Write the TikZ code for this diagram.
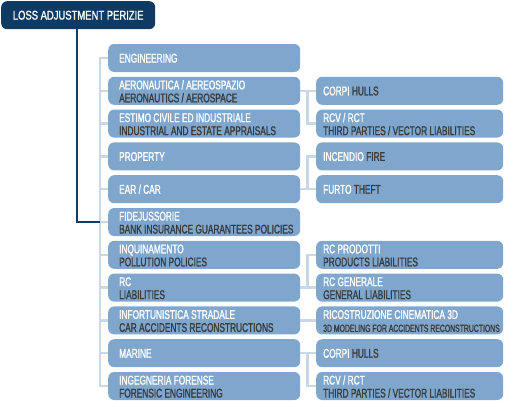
\documentclass[tikz,border=0pt]{standalone}
\usepackage{fontspec}
\setmainfont{Liberation Sans}[FakeStretch=0.66,FakeBold=1.2]
\newfontfamily\hdrfont{Liberation Sans}[FakeStretch=0.75,FakeBold=1.2]
\usetikzlibrary{calc}
\definecolor{navy}{HTML}{0E3A64}
\definecolor{boxblue}{HTML}{7FA7CE}
\definecolor{conn}{HTML}{C8D8E9}
\definecolor{engl}{HTML}{3A3A3A}
\newcommand\rowc[1]{\pgfmathsetmacro\cy{58+32.8*(#1-1)}}
% left box, one line
\newcommand\Lone[3]{\rowc{#2}%
  \node[lbox] (#1) at (108,\cy) {};
  \node[txt] (#1a) at (119,\cy+4.5) {#3};}
% left box, two lines
\newcommand\Ltwo[4]{\rowc{#2}%
  \node[lbox] (#1) at (108,\cy) {};
  \node[txt] (#1a) at (119,\cy-1.5) {#3};
  \node[txt,en] (#1b) at (119,\cy+11.5) {#4};}
% right box, one line
\newcommand\Rone[3]{\rowc{#2}%
  \node[rbox] (#1) at (316,\cy) {};
  \node[txt] (#1a) at (323,\cy+4.5) {#3};}
% right box, two lines
\newcommand\Rtwo[5][]{\rowc{#3}%
  \node[rbox] (#2) at (316,\cy) {};
  \node[txt] (#2a) at (323,\cy-1.5) {#4};
  \node[txt,en,#1] (#2b) at (323,\cy+11.5) {#5};}
\begin{document}
\begin{tikzpicture}[x=1pt,y=-1pt,
  lbox/.style={fill=boxblue, rounded corners=6pt, minimum width=192pt, minimum height=28pt, inner sep=0pt, anchor=west},
  rbox/.style={fill=boxblue, rounded corners=6pt, minimum width=187pt, minimum height=28pt, inner sep=0pt, anchor=west},
  txt/.style={anchor=base west, inner sep=0pt, font=\fontsize{12.6}{13}\selectfont, text=white},
  en/.style={text=engl},
  small/.style={font=\fontsize{10.4}{12}\selectfont},
  cline/.style={draw=conn, line width=2.5pt},
  dline/.style={draw=navy, line width=2pt},
  hdrbox/.style={fill=navy, rounded corners=6pt, minimum width=154pt, minimum height=28pt, inner sep=0pt, anchor=north west, text=white, font=\hdrfont\fontsize{12.6}{13}\selectfont}]
\useasboundingbox (0,0) rectangle (505,400);
\clip (0,0) rectangle (505,400);

% left boxes
\Lone{L1}{1}{ENGINEERING}
\Ltwo{L2}{2}{AERONAUTICA / AEREOSPAZIO}{AERONAUTICS / AEROSPACE}
\Ltwo{L3}{3}{ESTIMO CIVILE ED INDUSTRIALE}{INDUSTRIAL AND ESTATE APPRAISALS}
\Lone{L4}{4}{PROPERTY}
\Lone{L5}{5}{EAR / CAR}
\Ltwo{L6}{6}{FIDEJUSSORIE}{BANK INSURANCE GUARANTEES POLICIES}
\Ltwo{L7}{7}{INQUINAMENTO}{POLLUTION POLICIES}
\Ltwo{L8}{8}{RC}{LIABILITIES}
\Ltwo{L9}{9}{INFORTUNISTICA STRADALE}{CAR ACCIDENTS RECONSTRUCTIONS}
\Lone{L10}{10}{MARINE}
\Ltwo{L11}{11}{INGEGNERIA FORENSE}{FORENSIC ENGINEERING}

% right boxes
\Rone{R2}{2}{CORPI \textcolor{engl}{HULLS}}
\Rtwo{R3}{3}{RCV / RCT}{THIRD PARTIES / VECTOR LIABILITIES}
\Rone{R4}{4}{INCENDIO \textcolor{engl}{FIRE}}
\Rone{R5}{5}{FURTO \textcolor{engl}{THEFT}}
\Rtwo{R7}{7}{RC PRODOTTI}{PRODUCTS LIABILITIES}
\Rtwo{R8}{8}{RC GENERALE}{GENERAL LIABILITIES}
\Rtwo[small]{R9}{9}{RICOSTRUZIONE CINEMATICA 3D}{3D MODELING FOR ACCIDENTS RECONSTRUCTIONS}
\Rone{R10}{10}{CORPI \textcolor{engl}{HULLS}}
\Rtwo{R11}{11}{RCV / RCT}{THIRD PARTIES / VECTOR LIABILITIES}

% header
\node[hdrbox] (hdr) at (1,1) {LOSS ADJUSTMENT PERIZIE};

% left bus
\draw[cline] (L1.west) -- ++(-8,0) |- (L11.west);
\foreach \n in {L2,L3,L4,L5,L6,L7,L8,L9,L10}
  \draw[cline] (\n.west) -- ++(-8,0);
% right connectors
\draw[cline] (L2.east) -- (R2.west);
\draw[cline] ($(L2.east)+(7,0)$) |- (R3.west);
\draw[cline] (L5.east) -- (R5.west);
\draw[cline] ($(L5.east)+(7,0)$) |- (R4.west);
\draw[cline] (L8.east) -- (R8.west);
\draw[cline] ($(L8.east)+(7,0)$) |- (R7.west);
\draw[cline] (L9.east) -- (R9.west);
\draw[cline] (L10.east) -- (R10.west);
\draw[cline] ($(L10.east)+(7,0)$) |- (R11.west);
% dark trunk
\draw[dline] (hdr.south -| 77,0) |- ($(L6.west)+(-8,0)$);
\end{tikzpicture}
\end{document}
